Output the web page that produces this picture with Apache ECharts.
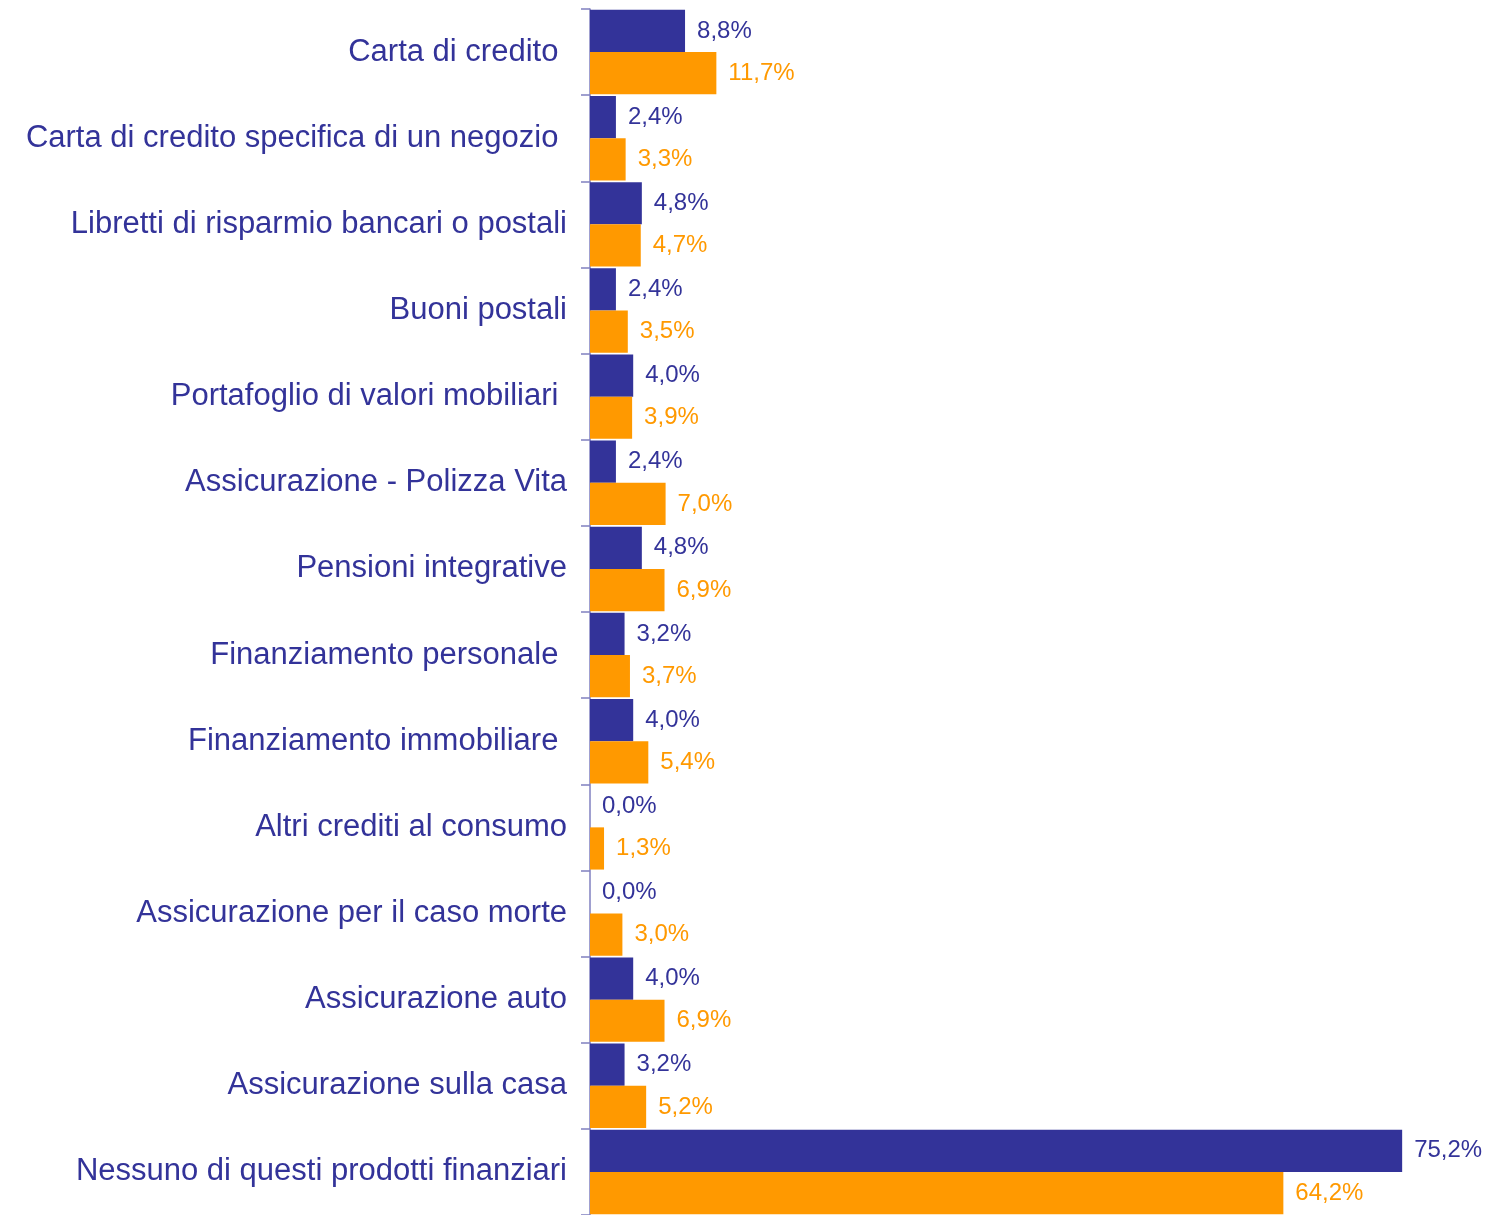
<!DOCTYPE html>
<html>
<head>
<meta charset="utf-8">
<script src="https://cdn.jsdelivr.net/npm/echarts@6/dist/echarts.min.js"></script>
<style>
  html, body { margin: 0; padding: 0; background: #fff; }
  #main { width: 1488px; height: 1215px; }
</style>
</head>
<body>
<div id="main"></div>
<script>
// categorie (gli spazi finali replicano l'allineamento originale)
var categories = [
    'Carta di credito ',
    'Carta di credito specifica di un negozio ',
    'Libretti di risparmio bancari o postali',
    'Buoni postali',
    'Portafoglio di valori mobiliari ',
    'Assicurazione - Polizza Vita',
    'Pensioni integrative',
    'Finanziamento personale ',
    'Finanziamento immobiliare ',
    'Altri crediti al consumo',
    'Assicurazione per il caso morte',
    'Assicurazione auto',
    'Assicurazione sulla casa',
    'Nessuno di questi prodotti finanziari'
];
var serieBlu = [8.8, 2.4, 4.8, 2.4, 4.0, 2.4, 4.8, 3.2, 4.0, 0.0, 0.0, 4.0, 3.2, 75.2];
var serieArancio = [11.7, 3.3, 4.7, 3.5, 3.9, 7.0, 6.9, 3.7, 5.4, 1.3, 3.0, 6.9, 5.2, 64.2];

var BLU = '#333399';
var ARANCIO = '#FF9900';
var FONT = '"Liberation Sans", Arial, sans-serif';

function percento(p) {
    return p.value.toFixed(1).replace('.', ',') + '%';
}

var myChart = echarts.init(document.getElementById('main'));
myChart.setOption({
    animation: false,
    backgroundColor: '#fff',
    grid: {
        left: 590,
        top: 9,
        width: 864,
        height: 1210,
        containLabel: false
    },
    xAxis: {
        type: 'value',
        min: 0,
        max: 80,
        show: false
    },
    yAxis: {
        type: 'category',
        inverse: true,
        data: categories,
        axisLine: { show: true, lineStyle: { color: '#8080c0', width: 1.5 } },
        axisTick: { show: true, length: 9, lineStyle: { color: '#8080c0', width: 1.5 } },
        axisLabel: {
            margin: 23,
            fontSize: 31,
            fontFamily: FONT,
            color: BLU
        },
        splitLine: { show: false }
    },
    series: [{
        name: 'Blu',
        type: 'bar',
        data: serieBlu,
        barGap: '0%',
        barCategoryGap: '2%',
        itemStyle: { color: BLU },
        label: {
            show: true,
            position: 'right',
            distance: 12,
            fontSize: 24,
            fontFamily: FONT,
            color: BLU,
            formatter: percento
        }
    }, {
        name: 'Arancio',
        type: 'bar',
        data: serieArancio,
        barGap: '0%',
        barCategoryGap: '2%',
        itemStyle: { color: ARANCIO },
        label: {
            show: true,
            position: 'right',
            distance: 12,
            fontSize: 24,
            fontFamily: FONT,
            color: ARANCIO,
            formatter: percento
        }
    }]
});
</script>
</body>
</html>
